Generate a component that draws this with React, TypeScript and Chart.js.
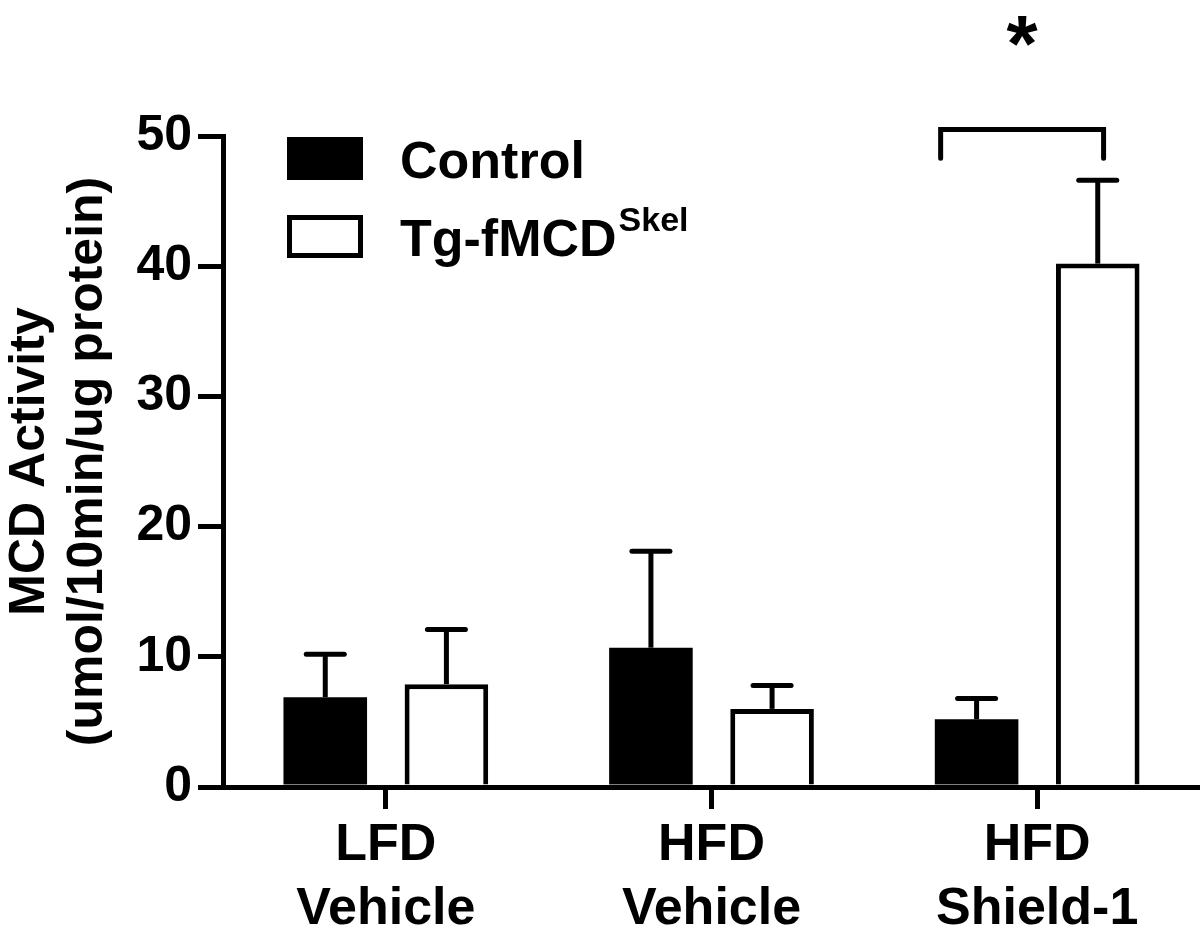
import React, { useEffect, useRef } from "react";
import { Chart, registerables } from "chart.js";

Chart.register(...registerables);

const categories = [["LFD", "Vehicle"], ["HFD", "Vehicle"], ["HFD", "Shield-1"]];
const controlLabel = "Control";
const tgLabel = "Tg-fMCD";
const tgLabelSup = "Skel";
const controlMeans = [6.9, 10.7, 5.2];
const controlErr = [3.3, 7.4, 1.6];
const tgMeans = [7.9, 6.0, 40.2];
const tgErr = [4.2, 1.8, 6.4];
const yTicks = [0, 10, 20, 30, 40, 50];
const yTitle = ["MCD Activity", "(umol/10min/ug protein)"];
const sigCategory = 2;
const sigTop = 50.5;
const sigDrop = 48.3;
const sigStarY = 58.1;
const sigLabel = "*";

const FONT = "'Liberation Sans', Arial, Helvetica, sans-serif";

const errorBarPlugin = {
  id: "errorBars",
  afterDatasetsDraw(chart: any) {
    const ctx = chart.ctx;
    const yScale = chart.scales.y;
    const errs = [controlErr, tgErr];
    ctx.save();
    ctx.strokeStyle = "#000";
    ctx.lineWidth = 5;
    chart.data.datasets.forEach((ds: any, di: number) => {
      const meta = chart.getDatasetMeta(di);
      meta.data.forEach((bar: any, i: number) => {
        const v = ds.data[i];
        const top = yScale.getPixelForValue(v + errs[di][i]);
        ctx.lineCap = "butt";
        ctx.beginPath();
        ctx.moveTo(bar.x, bar.y);
        ctx.lineTo(bar.x, top);
        ctx.stroke();
        ctx.lineCap = "round";
        ctx.beginPath();
        ctx.moveTo(bar.x - 19, top);
        ctx.lineTo(bar.x + 19, top);
        ctx.stroke();
      });
    });
    ctx.restore();
  },
};

const annotationPlugin = {
  id: "sigAndLegend",
  afterDraw(chart: any) {
    const ctx = chart.ctx;
    const yScale = chart.scales.y;
    const area = chart.chartArea;
    ctx.save();
    // significance bracket
    const b0 = chart.getDatasetMeta(0).data[sigCategory];
    const b1 = chart.getDatasetMeta(1).data[sigCategory];
    const xl = b0.x - b0.width * 0.43;
    const xr = b1.x + b1.width * 0.07;
    const yt = yScale.getPixelForValue(sigTop);
    const yd = yScale.getPixelForValue(sigDrop);
    ctx.strokeStyle = "#000";
    ctx.lineWidth = 5;
    ctx.lineCap = "round";
    ctx.lineJoin = "miter";
    ctx.beginPath();
    ctx.moveTo(xl, yd);
    ctx.lineTo(xl, yt);
    ctx.lineTo(xr, yt);
    ctx.lineTo(xr, yd);
    ctx.stroke();
    ctx.fillStyle = "#000";
    ctx.font = `bold 80px ${FONT}`;
    ctx.textAlign = "center";
    ctx.textBaseline = "alphabetic";
    const m = ctx.measureText(sigLabel);
    const cy = yScale.getPixelForValue(sigStarY);
    const yb = cy - (m.actualBoundingBoxDescent - m.actualBoundingBoxAscent) / 2;
    ctx.fillText(sigLabel, (xl + xr) / 2, yb);

    // legend
    const bx = area.left + 64;
    const bw = 76;
    const bh = 43;
    const by1 = area.top + 1;
    const by2 = area.top + 79;
    ctx.fillStyle = "#000";
    ctx.fillRect(bx, by1, bw, bh);
    ctx.fillStyle = "#fff";
    ctx.fillRect(bx, by2, bw, bh);
    ctx.strokeStyle = "#000";
    ctx.lineWidth = 5;
    ctx.lineJoin = "miter";
    ctx.strokeRect(bx + 2.5, by2 + 2.5, bw - 5, bh - 5);
    ctx.fillStyle = "#000";
    ctx.textAlign = "left";
    ctx.textBaseline = "alphabetic";
    ctx.font = `bold 52px ${FONT}`;
    const tx = area.left + 177;
    ctx.fillText(controlLabel, tx, by1 + bh / 2 + 19);
    const base2 = by2 + bh / 2 + 19;
    ctx.fillText(tgLabel, tx, base2);
    const w = ctx.measureText(tgLabel).width;
    ctx.font = `bold 34px ${FONT}`;
    ctx.fillText(tgLabelSup, tx + w + 2, base2 - 25);
    ctx.restore();
  },
};

export default function App() {
  const ref = useRef<HTMLCanvasElement>(null);
  useEffect(() => {
    if (!ref.current) return;
    const chart = new Chart(ref.current, {
      type: "bar",
      data: {
        labels: categories as any,
        datasets: [
          {
            label: controlLabel,
            data: controlMeans,
            backgroundColor: "#000",
            borderColor: "#000",
            borderWidth: 0,
            barPercentage: 0.69,
            categoryPercentage: 0.744,
          },
          {
            label: tgLabel + tgLabelSup,
            data: tgMeans,
            backgroundColor: "#fff",
            borderColor: "#000",
            borderWidth: 5,
            barPercentage: 0.69,
            categoryPercentage: 0.744,
          },
        ],
      },
      options: {
        animation: false,
        responsive: true,
        maintainAspectRatio: false,
        layout: { padding: { top: 136, left: 0, right: 0, bottom: 0 } },
        plugins: { legend: { display: false }, tooltip: { enabled: false } },
        scales: {
          x: {
            afterFit(scale: any) {
              scale.height = 153;
            },
            grid: {
              offset: false,
              drawOnChartArea: false,
              drawTicks: true,
              tickLength: 22,
              lineWidth: 5,
              tickWidth: 5,
              tickColor: "#000",
              color: "#000",
            },
            border: { display: true, width: 5, color: "#000", z: 1 },
            ticks: {
              color: "#000",
              padding: 5,
              font: { family: FONT, size: 52, weight: "bold", lineHeight: 1.23 },
              maxRotation: 0,
              autoSkip: false,
            },
          },
          y: {
            min: 0,
            max: 50,
            afterFit(scale: any) {
              scale.width = 223;
            },
            afterBuildTicks(scale: any) {
              scale.ticks = yTicks.map((v) => ({ value: v }));
            },
            grid: {
              drawOnChartArea: false,
              drawTicks: true,
              tickLength: 25,
              lineWidth: 5,
              tickWidth: 5,
              tickColor: "#000",
              color: "#000",
            },
            border: { display: true, width: 5, color: "#000", z: 1 },
            ticks: {
              color: "#000",
              padding: 6,
              font: { family: FONT, size: 50, weight: "bold" },
            },
            title: {
              display: true,
              text: yTitle,
              color: "#000",
              font: { family: FONT, size: 50, weight: "bold", lineHeight: 1.16 },
              padding: { top: 1, bottom: 0 },
            },
          },
        },
      },
      plugins: [errorBarPlugin, annotationPlugin],
    });
    return () => chart.destroy();
  }, []);
  return (
    <div style={{ position: "absolute", left: 0, top: 0, width: 1200, height: 940, background: "#fff" }}>
      <canvas ref={ref} />
    </div>
  );
}
